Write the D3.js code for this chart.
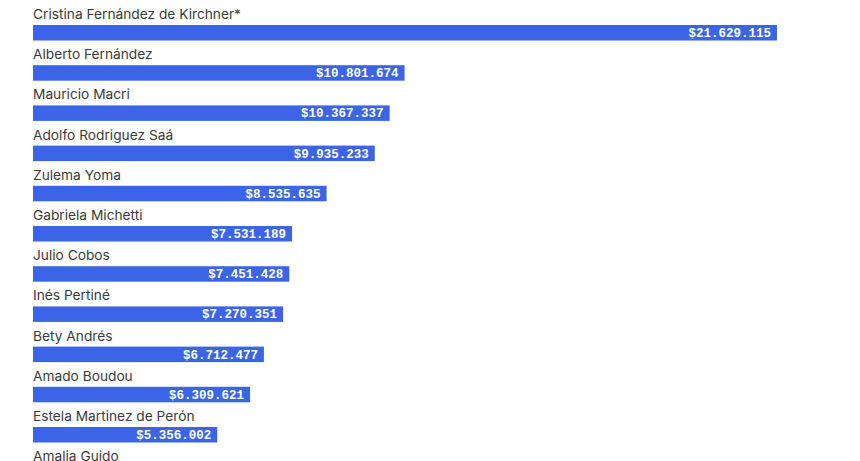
<!DOCTYPE html>
<html><head><meta charset="utf-8">
<script src="https://cdn.jsdelivr.net/npm/d3@7"></script>
<style>body{margin:0;background:#fff;}svg{display:block;}</style>
</head><body>
<script>
const names = ["Cristina Fernández de Kirchner*","Alberto Fernández","Mauricio Macri","Adolfo Rodriguez Saá","Zulema Yoma","Gabriela Michetti","Julio Cobos","Inés Pertiné","Bety Andrés","Amado Boudou","Estela Martinez de Perón","Amalia Guido"];
const values = [21629115,10801674,10367337,9935233,8535635,7531189,7451428,7270351,6712477,6309621,5356002,4900000];

const W=860,H=461;
const svg=d3.select("body").append("svg").attr("width",W).attr("height",H);
const x=d3.scaleLinear().domain([0,d3.max(values)]).range([33,777]);
const y=d3.scaleBand().domain(names).range([25-12.3,25-12.3+40.2*names.length]).paddingInner(0);
const bh=15.5;
const fmt=v=>"$"+d3.format(",")(v).replace(/,/g,".");
const g=svg.selectAll("g.row").data(names).join("g").attr("class","row");
const lab=g.append("text").attr("x",33).attr("y",d=>y(d)+12.3-6)
 .attr("font-family","Inter, Liberation Sans, Arial, sans-serif").attr("font-size",13).attr("fill","#3a3a3a").text(d=>d);
// stretch labels so the first one spans the same width as in the reference
const w0=lab.node().getComputedTextLength();
lab.attr("textLength",function(){return this.getComputedTextLength()*208/w0;}).attr("lengthAdjust","spacingAndGlyphs");
g.append("rect").attr("x",x(0)).attr("y",d=>y(d)+12.3).attr("height",bh)
 .attr("width",(d,i)=>x(values[i])-x(0)).attr("fill","#3b65e6");
g.append("text").attr("x",(d,i)=>x(values[i])-6).attr("y",d=>y(d)+12.3+bh/2+4.3)
 .attr("text-anchor","end").attr("font-family","Liberation Mono, DejaVu Sans Mono, monospace").attr("font-weight","bold")
 .attr("font-size",12.5).attr("fill","#fff").text((d,i)=>fmt(values[i]));
</script>
</body></html>
